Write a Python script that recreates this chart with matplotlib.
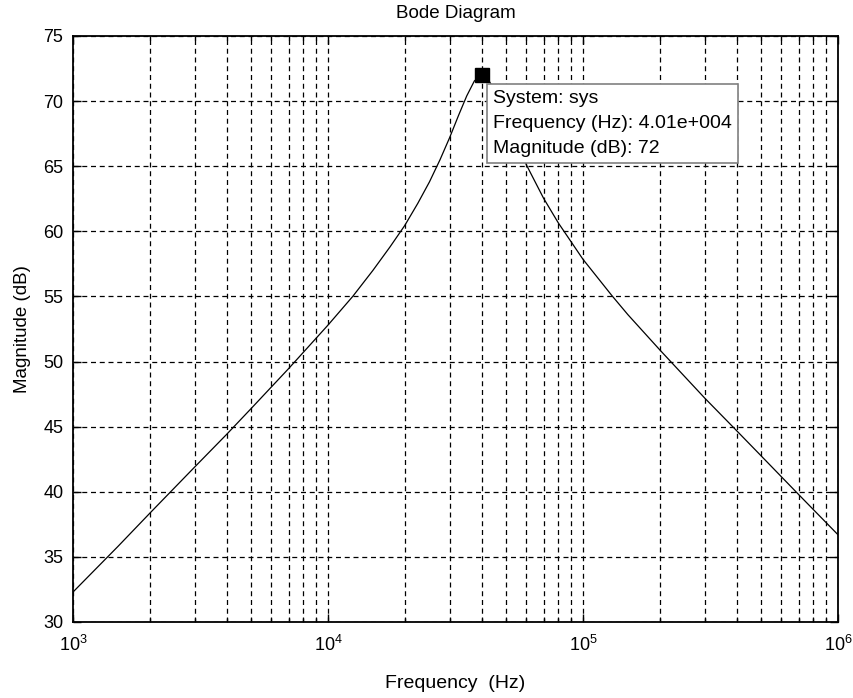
import matplotlib
matplotlib.use("Agg")
import matplotlib.pyplot as plt
from matplotlib.ticker import LogLocator, MultipleLocator

plt.rcParams['font.family'] = ['Liberation Sans', 'DejaVu Sans']
plt.rcParams['mathtext.default'] = 'regular'

# values
freq_hz = [1000, 1500, 2000, 3000, 4000, 5000, 7000, 10000, 12500, 15000,
           17500, 20000, 22500, 25000, 27500, 30000, 32500, 35000, 37500,
           40100, 42500, 45000, 50000, 55000, 60000, 70000, 80000, 100000,
           130000, 150000, 200000, 300000, 400000, 500000, 700000, 1000000]
mag_db = [32.3, 35.8, 38.35, 41.9, 44.4, 46.4, 49.45, 52.8, 55.0, 57.0,
          58.8, 60.45, 62.15, 63.8, 65.5, 67.2, 68.9, 70.4, 71.55,
          72.0, 71.65, 70.85, 68.7, 66.75, 65.1, 62.55, 60.65, 57.85,
          55.05, 53.6, 50.9, 47.2, 44.7, 42.75, 39.8, 36.7]
peak_f = 40100
peak_db = 72
tip_lines = ["System: sys", "Frequency (Hz): 4.01e+004", "Magnitude (dB): 72"]

fig = plt.figure(figsize=(8.54, 6.98), dpi=100)
ax = fig.add_axes([73 / 854, 1 - 622 / 698, (838 - 73) / 854, (622 - 36) / 698])

ax.semilogx(freq_hz, mag_db, color='black', lw=0.9)
ax.set_xlim(1e3, 1e6)
ax.set_ylim(30, 75)
ax.yaxis.set_major_locator(MultipleLocator(5))
ax.xaxis.set_major_locator(LogLocator(base=10, numticks=10))
ax.xaxis.set_minor_locator(LogLocator(base=10, subs=range(2, 10), numticks=20))

grid_kw = dict(color='black', linestyle=(0, (4, 3)), linewidth=0.9)
ax.grid(True, which='major', axis='both', **grid_kw)
ax.grid(True, which='minor', axis='x', **grid_kw)

ax.tick_params(which='both', direction='in', top=True, right=True,
               labelsize=13, colors='black')
ax.tick_params(which='major', length=6, width=1)
ax.tick_params(which='minor', length=3, width=1)
ax.tick_params(axis='y', which='major', pad=7)
ax.tick_params(axis='x', which='major', pad=9)
for s in ax.spines.values():
    s.set_linewidth(1.3)

ax.set_title("Bode Diagram", fontsize=13.5, pad=13)
ax.set_xlabel("Frequency  (Hz)", fontsize=14, labelpad=15)
ax.set_ylabel("Magnitude (dB)", fontsize=13.5, labelpad=9)

# data tip
ax.plot([peak_f], [peak_db], marker='s', color='black', ms=9.5, zorder=6)
ax.annotate("\n".join(tip_lines), xy=(peak_f, peak_db),
            xytext=(8, -10.5), textcoords='offset points',
            ha='left', va='top', fontsize=14, linespacing=1.62,
            bbox=dict(boxstyle='square,pad=0.3', fc='white', ec='#808080', lw=1.2),
            zorder=7)

fig.savefig("out.png", dpi=100)
